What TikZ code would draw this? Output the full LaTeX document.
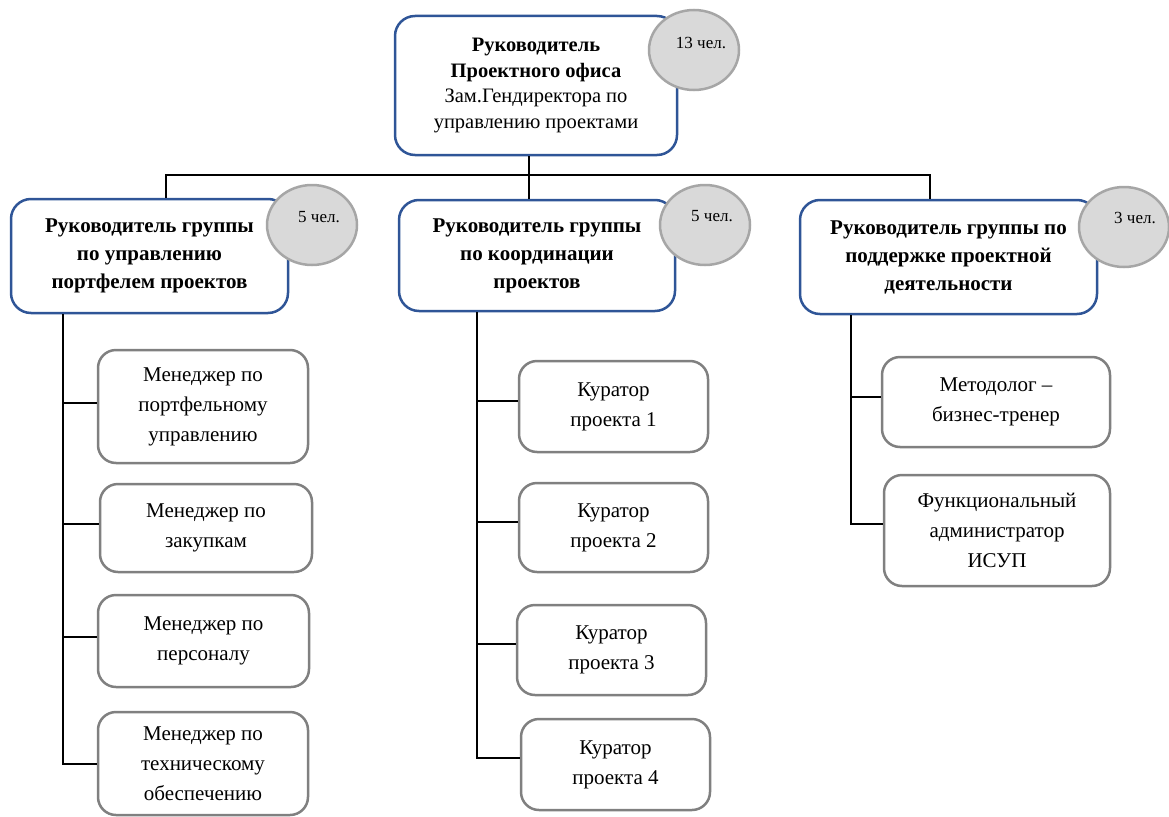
\documentclass[tikz,border=0pt]{standalone}
\usepackage{fontspec}
\setmainfont{Liberation Serif}
\usetikzlibrary{shapes.geometric}
\definecolor{frameblue}{RGB}{47,85,151}
\definecolor{framegray}{RGB}{128,128,128}
\definecolor{badgefill}{RGB}{217,217,217}
\definecolor{badgeline}{RGB}{166,166,166}

\begin{document}
\begin{tikzpicture}[x=1pt, y=-1pt,
    wire/.style={line width=2pt},
    headbox/.style={draw=frameblue, line width=2.5pt, rounded corners=20pt, fill=white, align=center, font=\fontsize{20.5}{25.5}\selectfont},
    groupbox/.style={draw=frameblue, line width=2.5pt, rounded corners=20pt, fill=white, align=center, font=\bfseries\fontsize{21}{28}\selectfont},
    staffbox/.style={draw=framegray, line width=2.5pt, rounded corners=18pt, fill=white, align=center, font=\fontsize{21}{30}\selectfont},
    badge/.style={ellipse, draw=badgeline, line width=2.5pt, fill=badgefill, minimum width=90pt, minimum height=80pt, inner sep=0pt},
    badgetext/.style={font=\fontsize{17}{20}\selectfont}]
    \useasboundingbox (0,0) rectangle (1169,816);

    % head of the office
    \node[headbox, minimum width=282pt, minimum height=139pt] (head) at (536,85.5)
        {\textbf{Руководитель}\\\textbf{Проектного офиса}\\Зам.Гендиректора по\\управлению проектами};
    \node[badge] (cntHead) at (694,50) {};
    \node[badgetext] at (701,43) {13 чел.};

    % group leaders
    \node[groupbox, minimum width=277pt, minimum height=114pt] (grpPortf) at (149.5,256)
        {Руководитель группы\\по управлению\\портфелем проектов};
    \node[groupbox, minimum width=276pt, minimum height=111pt] (grpCoord) at (537,255.5)
        {Руководитель группы\\по координации\\проектов};
    \node[groupbox, minimum width=297pt, minimum height=114pt] (grpSupp) at (948.5,257)
        {Руководитель группы по\\поддержке проектной\\деятельности};
    \node[badge] (cntPortf) at (312,225) {};
    \node[badgetext] at (319,217) {5 чел.};
    \node[badge] (cntCoord) at (705,225) {};
    \node[badgetext] at (712,216) {5 чел.};
    \node[badge] (cntSupp) at (1124,227) {};
    \node[badgetext] at (1135,218) {3 чел.};

    % staff
    \node[staffbox, minimum width=210pt, minimum height=113pt] (mgrPortf) at (203,406.5) {Менеджер по\\портфельному\\управлению};
    \node[staffbox, minimum width=212pt, minimum height=88pt] (mgrPurch) at (206,528) {Менеджер по\\закупкам};
    \node[staffbox, minimum width=211pt, minimum height=92pt] (mgrStaff) at (203.5,641) {Менеджер по\\персоналу};
    \node[staffbox, minimum width=210pt, minimum height=103pt] (mgrTech) at (203,763.5) {Менеджер по\\техническому\\обеспечению};

    \node[staffbox, minimum width=189pt, minimum height=91pt] (kur1) at (613.5,406.5) {Куратор\\проекта 1};
    \node[staffbox, minimum width=189pt, minimum height=89pt] (kur2) at (613.5,527.5) {Куратор\\проекта 2};
    \node[staffbox, minimum width=189pt, minimum height=90pt] (kur3) at (611.5,650) {Куратор\\проекта 3};
    \node[staffbox, minimum width=189pt, minimum height=91pt] (kur4) at (615.5,764.5) {Куратор\\проекта 4};

    \node[staffbox, minimum width=228pt, minimum height=90pt] (metod) at (996,402) {Методолог –\\бизнес-тренер};
    \node[staffbox, minimum width=226pt, minimum height=111pt] (funcAdm) at (997,530.5) {Функциональный\\администратор\\ИСУП};

    % bus between head and groups
    \coordinate (busL) at (166,175);
    \coordinate (busM) at (529,175);
    \coordinate (busR) at (930,175);
    \draw[wire] (busL |- grpPortf.north) -- (busL) -- (busR) -- (busR |- grpSupp.north);
    \draw[wire] (busM |- head.south) -- (busM |- grpCoord.north);

    % trunks down to the staff
    \coordinate (trunkL) at (63,0);
    \coordinate (trunkM) at (477,0);
    \coordinate (trunkR) at (851,0);
    \draw[wire] (trunkL |- grpPortf.south) -- (trunkL |- mgrTech.west) -- (mgrTech.west);
    \draw[wire] (trunkM |- grpCoord.south) -- ([yshift=7pt]trunkM |- kur4.west) -- ([yshift=7pt]kur4.west);
    \draw[wire] (trunkR |- grpSupp.south) -- ([yshift=7pt]trunkR |- funcAdm.west) -- ([yshift=7pt]funcAdm.west);
    \foreach \b in {mgrPortf, mgrPurch, mgrStaff}
        \draw[wire] ([yshift=4pt]trunkL |- \b.west) -- ([yshift=4pt]\b.west);
    \foreach \b in {kur1, kur2, kur3}
        \draw[wire] ([yshift=6pt]trunkM |- \b.west) -- ([yshift=6pt]\b.west);
    \draw[wire] ([yshift=5pt]trunkR |- metod.west) -- ([yshift=5pt]metod.west);
\end{tikzpicture}
\end{document}
